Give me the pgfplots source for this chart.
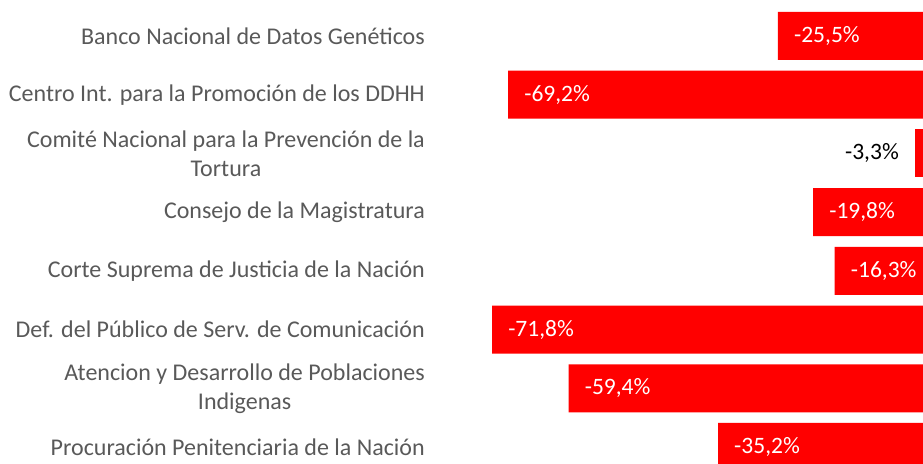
\documentclass[border=0pt]{standalone}
\usepackage{pgfplots}
\pgfplotsset{compat=1.18}
\usepackage{fontspec}
\setmainfont{Carlito}
\definecolor{lab}{HTML}{595959}
\definecolor{barred}{HTML}{FF0000}
\begin{document}
\fontsize{24pt}{29pt}\selectfont
\begin{tikzpicture}
\begin{axis}[
  scale only axis,
  width=923pt, height=464pt,
  xmin=-151.5, xmax=-2.0,
  ymin=-0.613, ymax=7.29,
  y dir=reverse,
  clip=true,
  axis line style={draw=none},
  major tick length=0pt,
  xtick=\empty,
  ytick={0,...,7},
  yticklabels={
    {Banco Nacional de Datos Genéticos},
    {Centro Int. para la Promoción de los DDHH},
    {Comité Nacional para la Prevención de la\\Tortura},
    {Consejo de la Magistratura},
    {Corte Suprema de Justicia de la Nación},
    {Def. del Público de Serv. de Comunicación},
    {Atencion y Desarrollo de Poblaciones\\Indigenas},
    {Procuración Penitenciaria de la Nación}},
  yticklabel style={anchor=east, align=center, text=lab, xshift=425pt, inner sep=0pt,
    font=\fontsize{24pt}{29pt}\selectfont},
  xbar, bar width=48pt, bar shift=0pt,
  /pgf/number format/assume math mode=true,
  nodes near coords={\pgfmathprintnumber[fixed,precision=1,zerofill,use comma]{\pgfplotspointmeta}\%},
  nodes near coords style={font=\fontsize{23.5pt}{28.5pt}\selectfont},
]
\addplot[fill=barred, draw=none,
  nodes near coords style={anchor=west, text=white, xshift=8pt}]
  coordinates {(-25.5,0) (-69.2,1) (-19.8,3) (-16.3,4) (-71.8,5) (-59.4,6) (-35.2,7)};
\addplot[fill=barred, draw=none,
  nodes near coords style={anchor=east, text=black, xshift=-8pt}]
  coordinates {(-3.3,2)};
\end{axis}
\pgfresetboundingbox
\path[use as bounding box] (current axis.south west) rectangle (current axis.north east);
\end{tikzpicture}
\end{document}
